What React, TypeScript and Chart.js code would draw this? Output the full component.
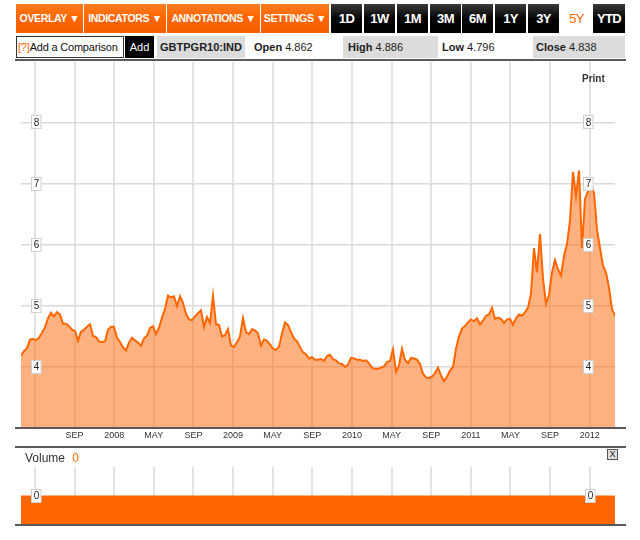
import React, { useEffect, useRef } from "react";
import { Chart, registerables } from "chart.js";

Chart.register(...registerables);

// x axis measured in months since Jan 2007
const xStartMonth = 2.6; // mid-March 2007
const xEndMonth = 62.55; // mid-March 2012
const xTickMonths = [4, 8, 12, 16, 20, 24, 28, 32, 36, 40, 44, 48, 52, 56, 60];
const xTickLabels = ["", "SEP", "2008", "MAY", "SEP", "2009", "MAY", "SEP", "2010", "MAY", "SEP", "2011", "MAY", "SEP", "2012"];
const yTickValues = [4, 5, 6, 7, 8];
const yMin = 3;
const yMax = 9;

// GBTPGR10:IND yield, evenly spaced samples from mid-Mar 2007 to mid-Mar 2012
const yields2007 = [4.19, 4.26, 4.31, 4.45, 4.46, 4.44, 4.48, 4.56, 4.65, 4.80, 4.89, 4.83, 4.90, 4.86, 4.71, 4.71, 4.67, 4.61, 4.59, 4.43, 4.58, 4.61, 4.66, 4.70, 4.51, 4.49, 4.42, 4.41, 4.42, 4.61, 4.66, 4.66, 4.48];
const yields2008 = [4.41, 4.32, 4.27, 4.40, 4.48, 4.44, 4.40, 4.35, 4.47, 4.51, 4.64, 4.67, 4.54, 4.64, 4.81, 4.95, 5.17, 5.14, 5.16, 5.00, 5.16, 5.05, 4.87, 4.78, 4.77, 4.83, 4.88, 4.93, 4.66, 4.82, 4.72, 5.17, 4.70];
const yields2009 = [4.69, 4.50, 4.52, 4.62, 4.35, 4.33, 4.41, 4.50, 4.80, 4.57, 4.54, 4.62, 4.60, 4.55, 4.35, 4.45, 4.43, 4.37, 4.30, 4.28, 4.33, 4.55, 4.73, 4.69, 4.57, 4.47, 4.42, 4.33, 4.24, 4.21, 4.14, 4.16, 4.12];
const yields2010 = [4.12, 4.13, 4.10, 4.18, 4.20, 4.13, 4.11, 4.06, 4.05, 4.00, 4.04, 4.15, 4.14, 4.12, 4.12, 4.10, 4.11, 4.06, 3.99, 3.97, 3.97, 3.99, 4.01, 4.08, 4.10, 4.29, 3.92, 4.02, 4.30, 4.12, 4.06, 4.15, 4.14];
const yieldsLate2010 = [4.12, 4.05, 3.89, 3.83, 3.82, 3.84, 3.90, 3.99, 3.86, 3.77, 3.84, 3.94, 4.00, 4.30, 4.50, 4.63, 4.67, 4.73, 4.78, 4.75, 4.80, 4.70, 4.76, 4.84, 4.86, 4.97, 4.79, 4.81, 4.79, 4.72, 4.78, 4.79, 4.69, 4.80];
const yields2011 = [4.86, 4.84, 4.90, 4.97, 5.20, 5.95, 5.55, 6.18, 5.45, 5.04, 5.18, 5.55, 5.75, 5.60, 5.50, 5.82, 6.02, 6.40, 7.20, 6.80, 7.22, 5.95, 6.75, 6.88, 7.02, 6.85, 6.25, 5.95, 5.66, 5.55, 5.30, 4.95, 4.84];
const yieldValues = [...yields2007, ...yields2008, ...yields2009, ...yields2010, ...yieldsLate2010, ...yields2011];

const volumeMonths = [2.6, 62.55];
const volumeValues = [0, 0];
const volumeTickValues = [0];

const menuButtons = ["OVERLAY ▼", "INDICATORS ▼", "ANNOTATIONS ▼", "SETTINGS ▼"];
const rangeButtons = ["1D", "1W", "1M", "3M", "6M", "1Y", "3Y", "5Y", "YTD"];

const FONT = '"Liberation Sans", Arial, Helvetica, sans-serif';

function makeBoxLabelPlugin(leftOffset: number, rightOffset: number) {
  return {
    id: "boxLabels",
    afterDatasetsDraw(chart: any) {
      const ys = chart.scales.y;
      const area = chart.chartArea;
      const ctx = chart.ctx;
      ctx.save();
      ctx.font = `10px ${FONT}`;
      ctx.textAlign = "center";
      ctx.textBaseline = "middle";
      for (const t of ys.ticks) {
        const py = ys.getPixelForValue(t.value);
        const label = String(t.value);
        const w = Math.max(8, ctx.measureText(label).width + 4);
        const h = 13;
        for (const cx of [area.left + leftOffset, area.right - rightOffset]) {
          ctx.fillStyle = "#ffffff";
          ctx.fillRect(Math.round(cx - w / 2) + 0.5, Math.round(py - h / 2) - 0.5, w, h);
          ctx.strokeStyle = "#cfcfcf";
          ctx.lineWidth = 1;
          ctx.strokeRect(Math.round(cx - w / 2) + 0.5, Math.round(py - h / 2) - 0.5, w, h);
          ctx.fillStyle = "#222";
          ctx.fillText(label, cx + 0.5, py);
        }
      }
      ctx.restore();
    },
  };
}

export default function App() {
  const mainRef = useRef<HTMLCanvasElement>(null);
  const volRef = useRef<HTMLCanvasElement>(null);

  useEffect(() => {
    const n = yieldValues.length;
    const stepMonths = (xEndMonth - xStartMonth) / (n - 1);
    const points = yieldValues.map((v, i) => ({ x: xStartMonth + i * stepMonths, y: v }));

    const xScaleBase = {
      type: "linear" as const,
      min: xStartMonth,
      max: xEndMonth,
      afterBuildTicks: (s: any) => {
        s.ticks = xTickMonths.map((v) => ({ value: v }));
      },
      grid: { color: "#e3e3e3", lineWidth: 2, drawTicks: false },
      border: { display: false },
    };

    const main = new Chart(mainRef.current!, {
      type: "line",
      data: {
        datasets: [
          {
            data: points,
            borderColor: "#ff6600",
            borderWidth: 2,
            backgroundColor: "rgba(255,102,0,0.5)",
            fill: "start",
            pointRadius: 0,
            tension: 0,
          },
        ],
      },
      options: {
        animation: false,
        responsive: false,
        maintainAspectRatio: false,
        layout: { padding: { left: 21, right: 25, top: 2, bottom: 0 } },
        plugins: { legend: { display: false }, tooltip: { enabled: false } },
        scales: {
          x: {
            ...xScaleBase,
            afterFit: (s: any) => {
              s.height = 22;
            },
            ticks: {
              autoSkip: false,
              maxRotation: 0,
              padding: 2,
              color: "#333",
              font: { family: FONT, size: 9 },
              callback: (v: any) => xTickLabels[xTickMonths.indexOf(Number(v))] ?? "",
            },
          },
          y: {
            min: yMin,
            max: yMax,
            afterBuildTicks: (s: any) => {
              s.ticks = yTickValues.map((v) => ({ value: v }));
            },
            ticks: { display: false },
            grid: { color: "#dadada", lineWidth: 1.5, drawTicks: false },
            border: { display: false },
          },
        },
      } as any,
      plugins: [makeBoxLabelPlugin(15, 27)],
    });

    const vol = new Chart(volRef.current!, {
      type: "line",
      data: {
        datasets: [
          {
            data: volumeMonths.map((m, i) => ({ x: m, y: volumeValues[i] })),
            borderColor: "#ff6600",
            borderWidth: 1,
            backgroundColor: "#ff6600",
            fill: "start",
            pointRadius: 0,
          },
        ],
      },
      options: {
        animation: false,
        responsive: false,
        maintainAspectRatio: false,
        layout: { padding: { left: 21, right: 25, top: 7, bottom: 0 } },
        plugins: { legend: { display: false }, tooltip: { enabled: false } },
        scales: {
          x: { ...xScaleBase, ticks: { display: false } },
          y: {
            min: -1,
            max: 1,
            afterBuildTicks: (s: any) => {
              s.ticks = volumeTickValues.map((v) => ({ value: v }));
            },
            ticks: { display: false },
            grid: { display: false, drawTicks: false },
            border: { display: false },
          },
        },
      } as any,
      plugins: [makeBoxLabelPlugin(15, 25)],
    });

    return () => {
      main.destroy();
      vol.destroy();
    };
  }, []);

  const menuX = [16, 84, 167, 261];
  const menuW = [67, 82, 93, 68];
  const rangeX = [331, 364, 397, 430, 462, 495, 528, 561, 593];
  const line = (top: number) => (
    <div style={{ position: "absolute", left: 15, top, width: 611, height: 2, background: "#5a5a5a" }} />
  );

  return (
    <div
      style={{
        position: "absolute",
        left: 0,
        top: 0,
        width: 640,
        height: 540,
        background: "#fff",
        overflow: "hidden",
        fontFamily: FONT,
      }}
    >
      {menuButtons.map((t, i) => (
        <div
          key={t}
          style={{
            position: "absolute",
            left: menuX[i],
            top: 4,
            width: menuW[i],
            height: 29,
            background: "linear-gradient(#ff7d22, #ff6600 45%, #f25f00)",
            color: "#fff",
            fontWeight: "bold",
            fontSize: 10.5,
            letterSpacing: "-0.35px",
            lineHeight: "29px",
            textAlign: "center",
            whiteSpace: "nowrap",
            overflow: "hidden",
          }}
        >
          {t}
        </div>
      ))}
      {rangeButtons.map((t, i) => (
        <div
          key={t}
          style={{
            position: "absolute",
            left: rangeX[i],
            top: 4,
            width: t === "YTD" ? 32 : 31,
            height: 29,
            background: t === "5Y" ? "#fff" : "linear-gradient(#3a3a3a, #050505 50%, #000)",
            color: t === "5Y" ? "#ff6600" : "#fff",
            fontWeight: t === "5Y" ? "normal" : "bold",
            fontSize: 13,
            letterSpacing: "-0.6px",
            lineHeight: "29px",
            textAlign: "center",
          }}
        >
          {t}
        </div>
      ))}

      {/* second row */}
      <div
        style={{
          position: "absolute",
          left: 16,
          top: 36,
          width: 106,
          height: 20,
          border: "1px solid #333",
          background: "#fff",
          fontSize: 11,
          letterSpacing: "-0.2px",
          lineHeight: "20px",
          whiteSpace: "nowrap",
          color: "#111",
          overflow: "hidden",
        }}
      >
        <span style={{ color: "#ff6600", marginLeft: 1 }}>[?]</span>Add a Comparison
      </div>
      <div
        style={{
          position: "absolute",
          left: 125,
          top: 36,
          width: 29,
          height: 22,
          background: "#000",
          color: "#fff",
          fontSize: 11,
          lineHeight: "22px",
          textAlign: "center",
        }}
      >
        Add
      </div>
      <div
        style={{
          position: "absolute",
          left: 157,
          top: 36,
          width: 88,
          height: 22,
          background: "#dcdcdc",
          color: "#222",
          fontWeight: "bold",
          fontSize: 11,
          lineHeight: "22px",
          textAlign: "center",
        }}
      >
        GBTPGR10:IND
      </div>
      <div style={{ position: "absolute", left: 254, top: 36, height: 22, fontSize: 11, lineHeight: "22px", color: "#222", whiteSpace: "nowrap" }}>
        <b>Open</b> 4.862
      </div>
      <div
        style={{
          position: "absolute",
          left: 343,
          top: 36,
          width: 95,
          height: 22,
          background: "#dcdcdc",
          fontSize: 11,
          lineHeight: "22px",
          color: "#222",
          whiteSpace: "nowrap",
        }}
      >
        <span style={{ marginLeft: 5 }}>
          <b>High</b> 4.886
        </span>
      </div>
      <div style={{ position: "absolute", left: 442, top: 36, height: 22, fontSize: 11, lineHeight: "22px", color: "#222", whiteSpace: "nowrap" }}>
        <b>Low</b> 4.796
      </div>
      <div
        style={{
          position: "absolute",
          left: 533,
          top: 36,
          width: 92,
          height: 22,
          background: "#dcdcdc",
          fontSize: 11,
          lineHeight: "22px",
          color: "#222",
          whiteSpace: "nowrap",
        }}
      >
        <span style={{ marginLeft: 3 }}>
          <b>Close</b> 4.838
        </span>
      </div>

      <canvas ref={mainRef} width={640} height={390} style={{ position: "absolute", left: 0, top: 60, width: 640, height: 390 }} />
      <canvas ref={volRef} width={640} height={65} style={{ position: "absolute", left: 0, top: 460, width: 640, height: 65 }} />

      {line(59)}
      {line(427)}
      {line(446)}
      {line(524)}

      <div style={{ position: "absolute", left: 582, top: 73, fontSize: 10, fontWeight: "bold", color: "#333" }}>Print</div>

      <div style={{ position: "absolute", left: 25, top: 451, fontSize: 12, color: "#333", whiteSpace: "nowrap" }}>
        Volume <span style={{ color: "#ff6600", marginLeft: 4 }}>0</span>
      </div>
      <div
        style={{
          position: "absolute",
          left: 607,
          top: 449,
          width: 9,
          height: 9,
          border: "1px solid #555",
          background: "#ddd",
          fontSize: 9,
          lineHeight: "9px",
          textAlign: "center",
          color: "#222",
        }}
      >
        X
      </div>
    </div>
  );
}
